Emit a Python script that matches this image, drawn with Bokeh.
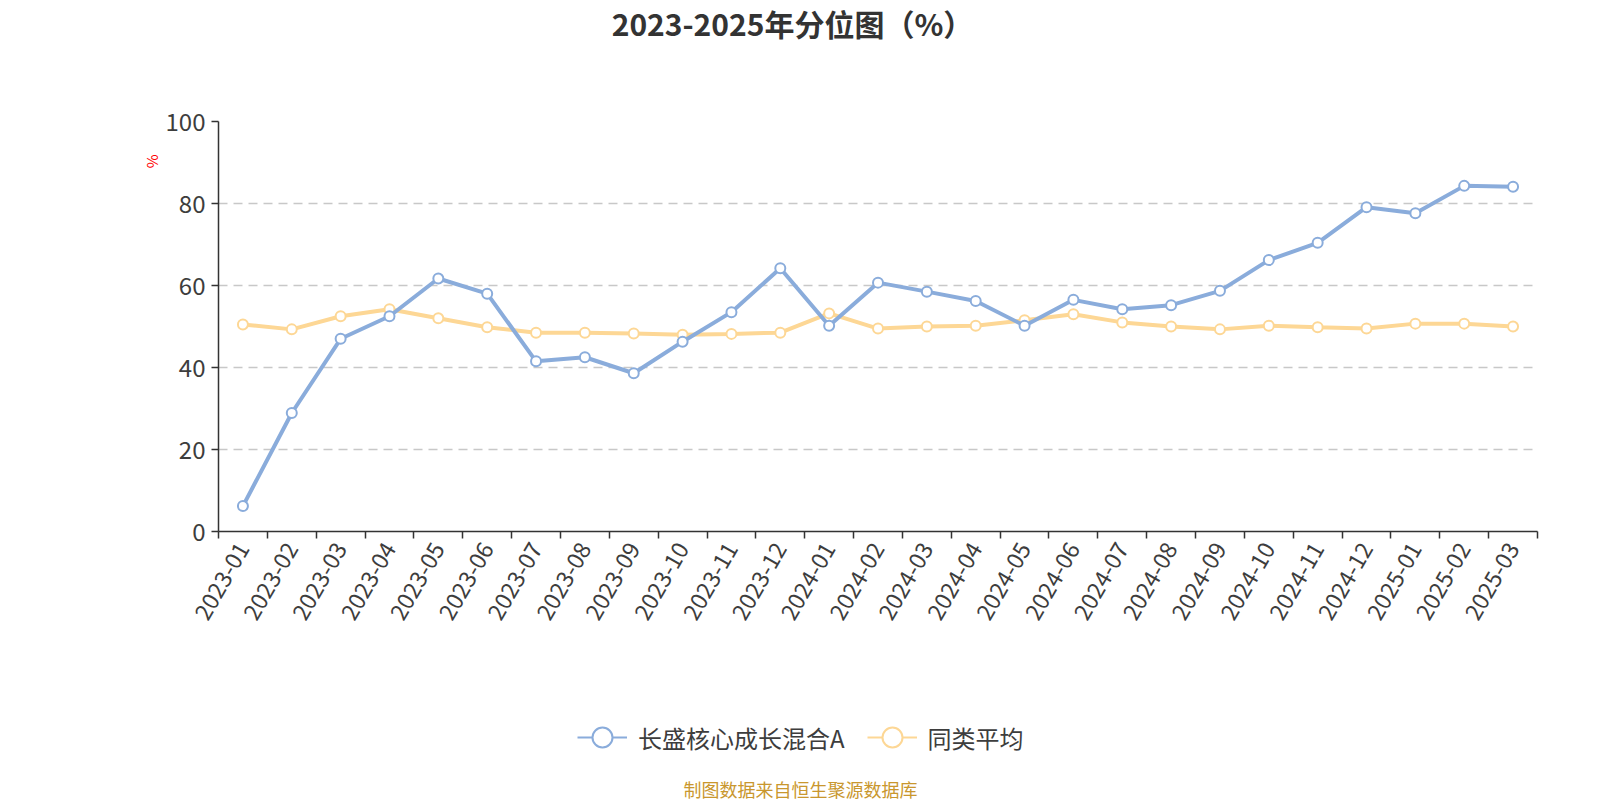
import math
from bokeh.plotting import figure
from bokeh.layouts import column
from bokeh.models import (Range1d, FixedTicker, Label, Legend, LegendItem,
                          ColumnDataSource, Title)
from bokeh.embed import file_html
from bokeh.resources import INLINE

months = ["2023-01", "2023-02", "2023-03", "2023-04", "2023-05", "2023-06",
          "2023-07", "2023-08", "2023-09", "2023-10", "2023-11", "2023-12",
          "2024-01", "2024-02", "2024-03", "2024-04", "2024-05", "2024-06",
          "2024-07", "2024-08", "2024-09", "2024-10", "2024-11", "2024-12",
          "2025-01", "2025-02", "2025-03"]
fund = [6.2, 28.9, 47.0, 52.5, 61.7, 58.0, 41.5, 42.5, 38.6, 46.3, 53.5, 64.2,
        50.2, 60.7, 58.5, 56.2, 50.2, 56.5, 54.2, 55.2, 58.7, 66.2, 70.4, 79.1,
        77.6, 84.3, 84.1]
peer = [50.5, 49.3, 52.5, 54.2, 52.0, 49.8, 48.5, 48.5, 48.3, 48.0, 48.2, 48.5,
        53.2, 49.5, 50.0, 50.2, 51.5, 53.0, 51.0, 50.0, 49.3, 50.2, 49.8, 49.5,
        50.7, 50.7, 50.0]
series_names = ["长盛核心成长混合A", "同类平均"]
y_ticks = [0, 20, 40, 60, 80, 100]
title_text = "2023-2025年分位图（%）"
unit_text = "%"
footer_text = "制图数据来自恒生聚源数据库"

BLUE = "#8aacdb"
YELLOW = "#fdd795"
FONT = "Noto Sans CJK SC"
TXT = "#3d3d3d"

n = len(months)
centers = [i + 0.5 for i in range(n)]
bounds = list(range(n + 1))

W = 1600
FL, FR, FT, FB = 218, 1537, 121, 531
H0 = 60          # title strip
H1 = 620         # chart
H2 = 800 - H0 - H1  # legend / footer strip


def strip(h, top):
    f = figure(width=W, height=h, output_backend="svg", toolbar_location=None,
               x_range=Range1d(FL, FR), y_range=Range1d(top + h, top),
               min_border_left=FL, min_border_right=W - FR,
               min_border_top=0, min_border_bottom=0)
    f.axis.visible = False
    f.grid.visible = False
    f.outline_line_color = None
    return f


# ---- title strip (data coordinates = page pixels)
t = strip(H0, 0)
t.add_layout(Label(x=792, y=22, text=title_text, text_font=FONT,
                   text_font_size="30px", text_font_style="bold",
                   text_color="#333333", text_align="center",
                   text_baseline="middle"))

# ---- chart
p = figure(width=W, height=H1, output_backend="svg", toolbar_location=None,
           x_range=Range1d(0, n), y_range=Range1d(0, 100),
           min_border_left=FL, min_border_right=W - FR,
           min_border_top=FT - H0, min_border_bottom=H0 + H1 - FB)
p.outline_line_color = None

p.add_layout(Title(text=unit_text, align="right", offset=33,
                   text_font=FONT, text_font_size="15px",
                   text_font_style="normal", text_color="#ff0000",
                   standoff=2), "left")

xa = p.xaxis[0]
xa.ticker = FixedTicker(ticks=centers, minor_ticks=bounds)
xa.major_label_overrides = {c: m for c, m in zip(centers, months)}
xa.major_label_orientation = math.pi / 3
xa.major_tick_out = 0
xa.major_tick_in = 0
xa.minor_tick_out = 7
xa.minor_tick_in = 0
xa.minor_tick_line_color = "#333333"
xa.minor_tick_line_width = 1.5
xa.axis_line_color = "#333333"
xa.axis_line_width = 1.5
xa.major_label_text_font = FONT
xa.major_label_text_font_size = "23px"
xa.major_label_text_color = TXT
xa.major_label_standoff = 6

ya = p.yaxis[0]
ya.ticker = FixedTicker(ticks=y_ticks)
ya.major_tick_out = 7
ya.major_tick_in = 0
ya.minor_tick_line_color = None
ya.major_tick_line_color = "#333333"
ya.major_tick_line_width = 1.5
ya.axis_line_color = "#333333"
ya.axis_line_width = 1.5
ya.major_label_text_font = FONT
ya.major_label_text_font_size = "24px"
ya.major_label_text_color = TXT
ya.major_label_standoff = 6

p.xgrid.grid_line_color = None
p.ygrid.ticker = FixedTicker(ticks=y_ticks[1:])
p.ygrid.grid_line_color = "#c8c8c8"
p.ygrid.grid_line_dash = "9 6"
p.ygrid.grid_line_width = 1.5

src = ColumnDataSource(dict(x=centers, fund=fund, peer=peer))

p.line("x", "peer", source=src, color=YELLOW, line_width=4)
p.scatter("x", "peer", source=src, size=10, fill_color="white",
          line_color=YELLOW, line_width=2)
p.line("x", "fund", source=src, color=BLUE, line_width=4)
p.scatter("x", "fund", source=src, size=10, fill_color="white",
          line_color=BLUE, line_width=2)

# ---- legend / footer strip (data coordinates = page pixels)
top2 = H0 + H1
q = strip(H2, top2)

hidden = ColumnDataSource(dict(x=[-1e5], y=[-1e5]))
lb = q.line("x", "y", source=hidden, color=BLUE, line_width=2)
sb = q.scatter("x", "y", source=hidden, fill_color="white",
               line_color=BLUE, line_width=2)
ly = q.line("x", "y", source=hidden, color=YELLOW, line_width=2)
sy = q.scatter("x", "y", source=hidden, fill_color="white",
               line_color=YELLOW, line_width=2)
GH = 52
legend = Legend(items=[LegendItem(label=series_names[0], renderers=[lb, sb]),
                       LegendItem(label=series_names[1], renderers=[ly, sy])],
                orientation="horizontal",
                location=(577 - FL, 800 - (737 + GH / 2)),
                glyph_width=50, glyph_height=GH, label_text_font=FONT,
                label_text_font_size="24px", label_text_color=TXT,
                label_height=GH,
                border_line_color=None, background_fill_alpha=0,
                spacing=22, label_standoff=11, padding=0, margin=0)
q.add_layout(legend, "center")

q.add_layout(Label(x=800, y=788, text=footer_text, text_font=FONT,
                   text_font_size="18px", text_color="#c9972e",
                   text_align="center", text_baseline="middle"))

layout = column(t, p, q, spacing=0)
open("out.html", "w").write(file_html(layout, INLINE))
